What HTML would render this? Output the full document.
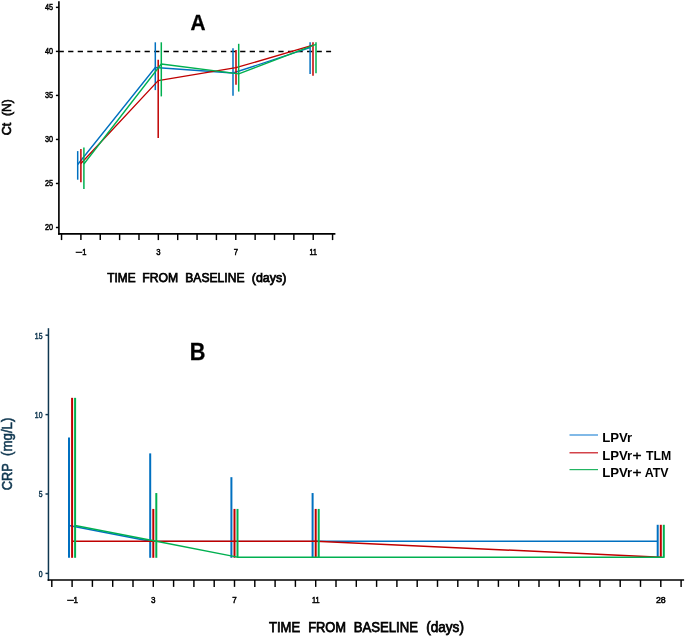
<!DOCTYPE html>
<html lang="en"><head><meta charset="utf-8"><title>Figure</title>
<style>html,body{margin:0;padding:0;background:#fff;}svg{display:block;}text{font-family:"Liberation Sans",sans-serif;}</style>
</head><body>
<svg width="685" height="636" viewBox="0 0 685 636">
<rect width="685" height="636" fill="#fff"/>
<line x1="58.90" y1="1.30" x2="58.90" y2="234.72" stroke="#000" stroke-width="1.65" />
<line x1="58.07" y1="233.90" x2="335.40" y2="233.90" stroke="#000" stroke-width="1.65" />
<line x1="55.90" y1="7.37" x2="58.90" y2="7.37" stroke="#000" stroke-width="1.45" />
<g transform="translate(53.00,10.27) scale(0.86,1)"><text x="0" y="0" font-size="8.4" text-anchor="end" fill="#000" stroke="#000" stroke-width="0.5">45</text></g>
<line x1="55.90" y1="51.40" x2="58.90" y2="51.40" stroke="#000" stroke-width="1.45" />
<g transform="translate(53.00,54.30) scale(0.86,1)"><text x="0" y="0" font-size="8.4" text-anchor="end" fill="#000" stroke="#000" stroke-width="0.5">40</text></g>
<line x1="55.90" y1="95.42" x2="58.90" y2="95.42" stroke="#000" stroke-width="1.45" />
<g transform="translate(53.00,98.32) scale(0.86,1)"><text x="0" y="0" font-size="8.4" text-anchor="end" fill="#000" stroke="#000" stroke-width="0.5">35</text></g>
<line x1="55.90" y1="139.45" x2="58.90" y2="139.45" stroke="#000" stroke-width="1.45" />
<g transform="translate(53.00,142.35) scale(0.86,1)"><text x="0" y="0" font-size="8.4" text-anchor="end" fill="#000" stroke="#000" stroke-width="0.5">30</text></g>
<line x1="55.90" y1="183.47" x2="58.90" y2="183.47" stroke="#000" stroke-width="1.45" />
<g transform="translate(53.00,186.38) scale(0.86,1)"><text x="0" y="0" font-size="8.4" text-anchor="end" fill="#000" stroke="#000" stroke-width="0.5">25</text></g>
<line x1="55.90" y1="227.50" x2="58.90" y2="227.50" stroke="#000" stroke-width="1.45" />
<g transform="translate(53.00,230.40) scale(0.86,1)"><text x="0" y="0" font-size="8.4" text-anchor="end" fill="#000" stroke="#000" stroke-width="0.5">20</text></g>
<line x1="61.54" y1="233.90" x2="61.54" y2="240.10" stroke="#000" stroke-width="1.45" />
<line x1="80.90" y1="233.90" x2="80.90" y2="240.10" stroke="#000" stroke-width="1.45" />
<line x1="100.26" y1="233.90" x2="100.26" y2="240.10" stroke="#000" stroke-width="1.45" />
<line x1="119.62" y1="233.90" x2="119.62" y2="240.10" stroke="#000" stroke-width="1.45" />
<line x1="138.98" y1="233.90" x2="138.98" y2="240.10" stroke="#000" stroke-width="1.45" />
<line x1="158.34" y1="233.90" x2="158.34" y2="240.10" stroke="#000" stroke-width="1.45" />
<line x1="177.70" y1="233.90" x2="177.70" y2="240.10" stroke="#000" stroke-width="1.45" />
<line x1="197.06" y1="233.90" x2="197.06" y2="240.10" stroke="#000" stroke-width="1.45" />
<line x1="216.42" y1="233.90" x2="216.42" y2="240.10" stroke="#000" stroke-width="1.45" />
<line x1="235.78" y1="233.90" x2="235.78" y2="240.10" stroke="#000" stroke-width="1.45" />
<line x1="255.14" y1="233.90" x2="255.14" y2="240.10" stroke="#000" stroke-width="1.45" />
<line x1="274.50" y1="233.90" x2="274.50" y2="240.10" stroke="#000" stroke-width="1.45" />
<line x1="293.86" y1="233.90" x2="293.86" y2="240.10" stroke="#000" stroke-width="1.45" />
<line x1="313.22" y1="233.90" x2="313.22" y2="240.10" stroke="#000" stroke-width="1.45" />
<line x1="332.58" y1="233.90" x2="332.58" y2="240.10" stroke="#000" stroke-width="1.45" />
<g transform="translate(82.80,254.80) scale(1.45,1)"><text x="0" y="0" font-size="8.4" text-anchor="end" fill="#000" stroke="#000" stroke-width="0.5">−</text></g>
<g transform="translate(82.20,254.80) scale(0.9,1)"><text x="0" y="0" font-size="8.4" text-anchor="start" fill="#000" stroke="#000" stroke-width="0.5">1</text></g>
<g transform="translate(158.34,254.80) scale(0.92,1)"><text x="0" y="0" font-size="8.4" text-anchor="middle" fill="#000" stroke="#000" stroke-width="0.5">3</text></g>
<g transform="translate(235.78,254.80) scale(0.92,1)"><text x="0" y="0" font-size="8.4" text-anchor="middle" fill="#000" stroke="#000" stroke-width="0.5">7</text></g>
<g transform="translate(313.22,254.80) scale(0.84,1)"><text x="0" y="0" font-size="8.4" text-anchor="middle" fill="#000" stroke="#000" stroke-width="0.5">11</text></g>
<line x1="58.60" y1="51.40" x2="331.10" y2="51.40" stroke="#000" stroke-width="1.55" stroke-dasharray="5.25 4.305"/>
<polyline points="77.70,164.50 155.30,67.50 233.00,73.00 310.10,47.70" fill="none" stroke="#0070C0" stroke-width="1.35" stroke-linejoin="round"/>
<line x1="77.70" y1="151.10" x2="77.70" y2="179.70" stroke="#0070C0" stroke-width="1.5" />
<line x1="155.30" y1="42.30" x2="155.30" y2="90.10" stroke="#0070C0" stroke-width="1.5" />
<line x1="233.00" y1="48.20" x2="233.00" y2="95.70" stroke="#0070C0" stroke-width="1.5" />
<line x1="310.10" y1="42.30" x2="310.10" y2="73.90" stroke="#0070C0" stroke-width="1.5" />
<polyline points="80.90,163.50 158.20,80.60 236.00,67.70 313.00,45.20" fill="none" stroke="#C00000" stroke-width="1.35" stroke-linejoin="round"/>
<line x1="80.90" y1="149.10" x2="80.90" y2="182.20" stroke="#C00000" stroke-width="1.5" />
<line x1="158.20" y1="59.80" x2="158.20" y2="138.10" stroke="#C00000" stroke-width="1.5" />
<line x1="236.00" y1="49.90" x2="236.00" y2="84.70" stroke="#C00000" stroke-width="1.5" />
<line x1="313.00" y1="42.30" x2="313.00" y2="75.70" stroke="#C00000" stroke-width="1.5" />
<polyline points="83.90,164.00 161.30,64.00 238.70,73.80 316.00,44.40" fill="none" stroke="#00B050" stroke-width="1.35" stroke-linejoin="round"/>
<line x1="83.90" y1="147.40" x2="83.90" y2="188.90" stroke="#00B050" stroke-width="1.5" />
<line x1="161.30" y1="42.30" x2="161.30" y2="96.40" stroke="#00B050" stroke-width="1.5" />
<line x1="238.70" y1="43.80" x2="238.70" y2="91.60" stroke="#00B050" stroke-width="1.5" />
<line x1="316.00" y1="42.30" x2="316.00" y2="73.30" stroke="#00B050" stroke-width="1.5" />
<g transform="translate(198.1,30.3) scale(0.97,1)"><text x="0" y="0" font-size="21.5" font-weight="bold" text-anchor="middle" fill="#000" stroke="#000" stroke-width="0.3">A</text></g>
<text x="107.30" y="281.90" font-size="13" font-weight="normal" fill="#000" stroke="#000" stroke-width="0.75" textLength="28.30" lengthAdjust="spacingAndGlyphs">TIME</text>
<text x="142.30" y="281.90" font-size="13" font-weight="normal" fill="#000" stroke="#000" stroke-width="0.75" textLength="35.90" lengthAdjust="spacingAndGlyphs">FROM</text>
<text x="185.30" y="281.90" font-size="13" font-weight="normal" fill="#000" stroke="#000" stroke-width="0.75" textLength="59.20" lengthAdjust="spacingAndGlyphs">BASELINE</text>
<text x="251.80" y="281.90" font-size="13" font-weight="normal" fill="#000" stroke="#000" stroke-width="0.75" textLength="34.50" lengthAdjust="spacingAndGlyphs">(days)</text>
<g transform="translate(11.1,0) rotate(-90)">
<text x="-135.30" y="0.00" font-size="13.4" font-weight="normal" fill="#000" stroke="#000" stroke-width="0.7" textLength="12.50" lengthAdjust="spacingAndGlyphs">Ct</text>
<text x="-116.00" y="0.00" font-size="13.4" font-weight="normal" fill="#000" stroke="#000" stroke-width="0.7" textLength="16.90" lengthAdjust="spacingAndGlyphs">(N)</text>
</g>
<line x1="48.45" y1="328.20" x2="48.45" y2="580.80" stroke="#0F3750" stroke-width="1.5" />
<line x1="47.62" y1="580.00" x2="684.10" y2="580.00" stroke="#000" stroke-width="1.65" />
<line x1="45.50" y1="335.20" x2="48.45" y2="335.20" stroke="#0F3750" stroke-width="1.45" />
<g transform="translate(42.50,338.50) scale(0.8,1)"><text x="0" y="0" font-size="8.6" text-anchor="end" fill="#0F3750" stroke="#0F3750" stroke-width="0.5">15</text></g>
<line x1="45.50" y1="414.60" x2="48.45" y2="414.60" stroke="#0F3750" stroke-width="1.45" />
<g transform="translate(42.50,417.90) scale(0.8,1)"><text x="0" y="0" font-size="8.6" text-anchor="end" fill="#0F3750" stroke="#0F3750" stroke-width="0.5">10</text></g>
<line x1="45.50" y1="494.00" x2="48.45" y2="494.00" stroke="#0F3750" stroke-width="1.45" />
<g transform="translate(42.50,497.30) scale(0.8,1)"><text x="0" y="0" font-size="8.6" text-anchor="end" fill="#0F3750" stroke="#0F3750" stroke-width="0.5">5</text></g>
<line x1="45.50" y1="573.40" x2="48.45" y2="573.40" stroke="#0F3750" stroke-width="1.45" />
<g transform="translate(42.50,576.70) scale(0.8,1)"><text x="0" y="0" font-size="8.6" text-anchor="end" fill="#0F3750" stroke="#0F3750" stroke-width="0.5">0</text></g>
<line x1="51.80" y1="580.00" x2="51.80" y2="586.90" stroke="#000" stroke-width="1.45" />
<line x1="72.10" y1="580.00" x2="72.10" y2="586.90" stroke="#000" stroke-width="1.45" />
<line x1="92.40" y1="580.00" x2="92.40" y2="586.90" stroke="#000" stroke-width="1.45" />
<line x1="112.70" y1="580.00" x2="112.70" y2="586.90" stroke="#000" stroke-width="1.45" />
<line x1="133.00" y1="580.00" x2="133.00" y2="586.90" stroke="#000" stroke-width="1.45" />
<line x1="153.30" y1="580.00" x2="153.30" y2="586.90" stroke="#000" stroke-width="1.45" />
<line x1="173.60" y1="580.00" x2="173.60" y2="586.90" stroke="#000" stroke-width="1.45" />
<line x1="193.90" y1="580.00" x2="193.90" y2="586.90" stroke="#000" stroke-width="1.45" />
<line x1="214.20" y1="580.00" x2="214.20" y2="586.90" stroke="#000" stroke-width="1.45" />
<line x1="234.50" y1="580.00" x2="234.50" y2="586.90" stroke="#000" stroke-width="1.45" />
<line x1="254.80" y1="580.00" x2="254.80" y2="586.90" stroke="#000" stroke-width="1.45" />
<line x1="275.10" y1="580.00" x2="275.10" y2="586.90" stroke="#000" stroke-width="1.45" />
<line x1="295.40" y1="580.00" x2="295.40" y2="586.90" stroke="#000" stroke-width="1.45" />
<line x1="315.70" y1="580.00" x2="315.70" y2="586.90" stroke="#000" stroke-width="1.45" />
<line x1="336.00" y1="580.00" x2="336.00" y2="586.90" stroke="#000" stroke-width="1.45" />
<line x1="356.30" y1="580.00" x2="356.30" y2="586.90" stroke="#000" stroke-width="1.45" />
<line x1="376.60" y1="580.00" x2="376.60" y2="586.90" stroke="#000" stroke-width="1.45" />
<line x1="396.90" y1="580.00" x2="396.90" y2="586.90" stroke="#000" stroke-width="1.45" />
<line x1="417.20" y1="580.00" x2="417.20" y2="586.90" stroke="#000" stroke-width="1.45" />
<line x1="437.50" y1="580.00" x2="437.50" y2="586.90" stroke="#000" stroke-width="1.45" />
<line x1="457.80" y1="580.00" x2="457.80" y2="586.90" stroke="#000" stroke-width="1.45" />
<line x1="478.10" y1="580.00" x2="478.10" y2="586.90" stroke="#000" stroke-width="1.45" />
<line x1="498.40" y1="580.00" x2="498.40" y2="586.90" stroke="#000" stroke-width="1.45" />
<line x1="518.70" y1="580.00" x2="518.70" y2="586.90" stroke="#000" stroke-width="1.45" />
<line x1="539.00" y1="580.00" x2="539.00" y2="586.90" stroke="#000" stroke-width="1.45" />
<line x1="559.30" y1="580.00" x2="559.30" y2="586.90" stroke="#000" stroke-width="1.45" />
<line x1="579.60" y1="580.00" x2="579.60" y2="586.90" stroke="#000" stroke-width="1.45" />
<line x1="599.90" y1="580.00" x2="599.90" y2="586.90" stroke="#000" stroke-width="1.45" />
<line x1="620.20" y1="580.00" x2="620.20" y2="586.90" stroke="#000" stroke-width="1.45" />
<line x1="640.50" y1="580.00" x2="640.50" y2="586.90" stroke="#000" stroke-width="1.45" />
<line x1="660.80" y1="580.00" x2="660.80" y2="586.90" stroke="#000" stroke-width="1.45" />
<line x1="681.10" y1="580.00" x2="681.10" y2="586.90" stroke="#000" stroke-width="1.45" />
<g transform="translate(74.00,602.80) scale(1.45,1)"><text x="0" y="0" font-size="8.8" text-anchor="end" fill="#000" stroke="#000" stroke-width="0.5">−</text></g>
<g transform="translate(73.40,602.80) scale(0.9,1)"><text x="0" y="0" font-size="8.8" text-anchor="start" fill="#000" stroke="#000" stroke-width="0.5">1</text></g>
<g transform="translate(153.30,602.80) scale(0.92,1)"><text x="0" y="0" font-size="8.8" text-anchor="middle" fill="#000" stroke="#000" stroke-width="0.5">3</text></g>
<g transform="translate(234.50,602.80) scale(0.92,1)"><text x="0" y="0" font-size="8.8" text-anchor="middle" fill="#000" stroke="#000" stroke-width="0.5">7</text></g>
<g transform="translate(315.70,602.80) scale(0.84,1)"><text x="0" y="0" font-size="8.8" text-anchor="middle" fill="#000" stroke="#000" stroke-width="0.5">11</text></g>
<g transform="translate(660.80,602.80) scale(1.0,1)"><text x="0" y="0" font-size="8.8" text-anchor="middle" fill="#000" stroke="#000" stroke-width="0.5">28</text></g>
<polyline points="69.00,525.39 150.20,541.26" fill="none" stroke="#0070C0" stroke-width="1.5" stroke-linejoin="round"/>
<polyline points="150.20,541.26 231.40,541.26 312.60,541.26" fill="none" stroke="#0070C0" stroke-width="0.8" stroke-linejoin="round"/>
<polyline points="312.60,541.26 657.70,541.26" fill="none" stroke="#0070C0" stroke-width="1.5" stroke-linejoin="round"/>
<line x1="69.00" y1="437.50" x2="69.00" y2="557.80" stroke="#0070C0" stroke-width="2.0" />
<line x1="150.20" y1="453.38" x2="150.20" y2="557.80" stroke="#0070C0" stroke-width="2.0" />
<line x1="231.40" y1="477.18" x2="231.40" y2="557.80" stroke="#0070C0" stroke-width="2.0" />
<line x1="312.60" y1="493.05" x2="312.60" y2="557.80" stroke="#0070C0" stroke-width="2.0" />
<line x1="657.70" y1="524.79" x2="657.70" y2="557.80" stroke="#0070C0" stroke-width="2.0" />
<polyline points="72.10,541.26 153.30,541.26 234.50,541.26 315.70,541.26 660.80,557.13" fill="none" stroke="#C00000" stroke-width="1.5" stroke-linejoin="round"/>
<line x1="72.10" y1="397.83" x2="72.10" y2="557.80" stroke="#C00000" stroke-width="2.0" />
<line x1="153.30" y1="508.92" x2="153.30" y2="557.80" stroke="#C00000" stroke-width="2.0" />
<line x1="234.50" y1="508.92" x2="234.50" y2="557.80" stroke="#C00000" stroke-width="2.0" />
<line x1="315.70" y1="508.92" x2="315.70" y2="557.80" stroke="#C00000" stroke-width="2.0" />
<line x1="660.80" y1="524.79" x2="660.80" y2="557.80" stroke="#C00000" stroke-width="2.0" />
<polyline points="75.10,525.39 156.30,541.26 237.50,557.13 318.70,557.13 663.80,557.13" fill="none" stroke="#00B050" stroke-width="1.5" stroke-linejoin="round"/>
<line x1="75.10" y1="397.83" x2="75.10" y2="557.80" stroke="#00B050" stroke-width="2.0" />
<line x1="156.30" y1="493.05" x2="156.30" y2="557.80" stroke="#00B050" stroke-width="2.0" />
<line x1="237.50" y1="508.92" x2="237.50" y2="557.80" stroke="#00B050" stroke-width="2.0" />
<line x1="318.70" y1="508.92" x2="318.70" y2="557.80" stroke="#00B050" stroke-width="2.0" />
<line x1="663.80" y1="524.79" x2="663.80" y2="557.80" stroke="#00B050" stroke-width="2.0" />
<g transform="translate(197.6,359.6) scale(0.94,1)"><text x="0" y="0" font-size="23.1" font-weight="bold" text-anchor="middle" fill="#000" stroke="#000" stroke-width="0.3">B</text></g>
<text x="269.00" y="632.00" font-size="14" font-weight="normal" fill="#000" stroke="#000" stroke-width="0.75" textLength="31.10" lengthAdjust="spacingAndGlyphs">TIME</text>
<text x="308.20" y="632.00" font-size="14" font-weight="normal" fill="#000" stroke="#000" stroke-width="0.75" textLength="37.90" lengthAdjust="spacingAndGlyphs">FROM</text>
<text x="353.80" y="632.00" font-size="14" font-weight="normal" fill="#000" stroke="#000" stroke-width="0.75" textLength="64.20" lengthAdjust="spacingAndGlyphs">BASELINE</text>
<text x="426.30" y="632.00" font-size="14" font-weight="normal" fill="#000" stroke="#000" stroke-width="0.75" textLength="37.60" lengthAdjust="spacingAndGlyphs">(days)</text>
<g transform="translate(11.9,0) rotate(-90)">
<text x="-490.30" y="0.00" font-size="13.9" font-weight="normal" fill="#0F3750" stroke="#0F3750" stroke-width="0.55" textLength="27.00" lengthAdjust="spacingAndGlyphs">CRP</text>
<text x="-456.00" y="0.00" font-size="13.9" font-weight="normal" fill="#0F3750" stroke="#0F3750" stroke-width="0.55" textLength="38.40" lengthAdjust="spacingAndGlyphs">(mg/L)</text>
</g>
<line x1="569.50" y1="435.00" x2="598.00" y2="435.00" stroke="#2E8BD8" stroke-width="1.2" />
<line x1="569.50" y1="452.80" x2="598.00" y2="452.80" stroke="#C8141C" stroke-width="1.2" />
<line x1="569.50" y1="469.60" x2="598.00" y2="469.60" stroke="#22B562" stroke-width="1.2" />
<text x="602.20" y="442.10" font-size="13.6" font-weight="bold" fill="#000" textLength="30.00" lengthAdjust="spacingAndGlyphs">LPVr</text>
<text x="602.20" y="459.80" font-size="13.6" font-weight="bold" fill="#000" textLength="30.00" lengthAdjust="spacingAndGlyphs">LPVr</text>
<text x="632.60" y="459.80" font-size="13.6" font-weight="normal" fill="#000" stroke="#000" stroke-width="0.4" textLength="9.10" lengthAdjust="spacingAndGlyphs">+</text>
<text x="646.00" y="459.80" font-size="13.6" font-weight="bold" fill="#000" textLength="25.20" lengthAdjust="spacingAndGlyphs">TLM</text>
<text x="602.20" y="476.50" font-size="13.6" font-weight="bold" fill="#000" textLength="30.00" lengthAdjust="spacingAndGlyphs">LPVr</text>
<text x="632.60" y="476.50" font-size="13.6" font-weight="normal" fill="#000" stroke="#000" stroke-width="0.4" textLength="9.10" lengthAdjust="spacingAndGlyphs">+</text>
<text x="644.70" y="476.50" font-size="13.6" font-weight="bold" fill="#000" textLength="23.90" lengthAdjust="spacingAndGlyphs">ATV</text>
</svg></body></html>
